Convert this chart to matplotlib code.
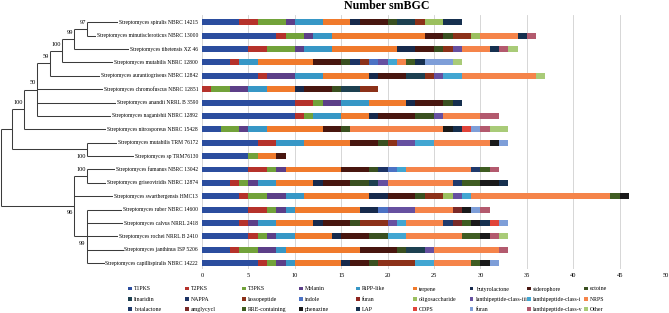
import matplotlib
matplotlib.use("Agg")
import matplotlib.pyplot as plt
from matplotlib.patches import Patch
import numpy as np

plt.rcParams['font.family'] = ['Liberation Serif', 'DejaVu Serif']

# ---------------- data ----------------
species = [
    "Streptomyces spiralis NBRC 14215",
    "Streptomyces minutiscleroticus NBRC 13000",
    "Streptomyces tibetensis XZ 46",
    "Streptomyces mutabilis NBRC 12800",
    "Streptomyces aurantiogriseus NBRC 12842",
    "Streptomyces chromofuscus NBRC 12851",
    "Streptomyces anandii NRRL B 3590",
    "Streptomyces naganishii NBRC 12892",
    "Streptomyces nitrosporeus NBRC 15428",
    "Streptomyces mutabilis TRM 76172",
    "Streptomyces sp TRM76130",
    "Streptomyces fumanus NBRC 13042",
    "Streptomyces griseoviridis NBRC 12874",
    "Streptomyces swartbergensis HMC13",
    "Streptomyces ruber NBRC 14600",
    "Streptomyces calvus NRRL 2418",
    "Streptomyces rochei NRRL B 2410",
    "Streptomyces janthinus ISP 5206",
    "Streptomyces capillispiralis NBRC 14222",
]

T1PKS         = [4, 8, 5, 3, 6, 0, 10, 10, 2, 6, 5, 5, 3, 4, 5, 4, 5, 3, 6]
T2PKS         = [2, 1, 2, 1, 1, 1, 2, 1, 0, 2, 0, 2, 1, 1, 2, 1, 1, 1, 1]
T3PKS         = [3, 2, 3, 0, 0, 2, 1, 1, 2, 0, 1, 1, 1, 2, 1, 0, 1, 2, 1]
Melanin       = [1, 1, 1, 0, 3, 2, 2, 0, 1, 0, 0, 1, 1, 2, 1, 1, 1, 2, 1]
RiPP_like     = [3, 2, 3, 2, 3, 2, 3, 3, 2, 3, 0, 0, 2, 2, 1, 2, 2, 1, 1]
terpene       = [3, 10, 7, 6, 5, 3, 4, 3, 6, 5, 2, 6, 4, 7, 7, 4, 4, 8, 5]
butyrolactone = [1, 0, 2, 0, 1, 1, 1, 1, 0, 0, 0, 0, 1, 2, 2, 1, 1, 0, 1]
siderophore   = [3, 2, 2, 3, 3, 3, 3, 4, 2, 3, 1, 3, 3, 3, 0, 3, 3, 4, 2]
ectoine       = [1, 1, 1, 1, 0, 1, 1, 2, 1, 1, 0, 1, 2, 1, 0, 1, 2, 1, 1]
linaridin     = [2, 0, 0, 0, 2, 2, 0, 0, 0, 0, 0, 0, 1, 0, 0, 0, 0, 2, 0]
NAPPA         = [0, 0, 0, 1, 0, 0, 0, 0, 0, 0, 0, 1, 0, 0, 0, 0, 0, 0, 0]
lassopeptide  = [1, 2, 1, 1, 1, 2, 0, 0, 0, 1, 0, 0, 0, 2, 0, 3, 0, 0, 4]
indole        = [0, 0, 0, 1, 0, 0, 0, 0, 0, 0, 0, 1, 0, 0, 1, 0, 0, 0, 0]
furan         = [0] * 19
oligosaccharide = [2, 1, 0, 0, 0, 0, 0, 0, 0, 0, 0, 0, 0, 1, 0, 0, 0, 0, 0]
lanthi_iii    = [0, 0, 1, 1, 1, 0, 0, 1, 0, 2, 0, 0, 1, 1, 3, 1, 0, 1, 0]
lanthi_i      = [0, 0, 0, 1, 2, 0, 0, 0, 0, 2, 0, 1, 0, 1, 0, 1, 2, 0, 2]
NRPS          = [0, 4, 3, 1, 8, 0, 0, 4, 10, 6, 0, 7, 7, 15, 4, 4, 6, 7, 4]
betalactone   = [0, 0, 0, 0, 0, 0, 0, 0, 0, 0, 0, 1, 1, 0, 0, 1, 0, 0, 0]
amglycycl     = [0, 0, 0, 0, 0, 0, 0, 0, 0, 0, 0, 0, 0, 0, 1, 1, 0, 0, 0]
RRE           = [0, 0, 0, 1, 0, 0, 0, 0, 0, 0, 0, 1, 2, 1, 0, 1, 2, 0, 1]
phenazine     = [0, 0, 0, 0, 0, 0, 0, 0, 1, 1, 0, 0, 2, 1, 1, 1, 1, 0, 1]
LAP           = [2, 1, 1, 1, 0, 0, 1, 0, 1, 0, 0, 0, 1, 0, 0, 1, 0, 0, 0]
CDPS          = [0, 0, 0, 0, 0, 0, 0, 0, 1, 0, 0, 0, 0, 0, 0, 1, 0, 0, 0]
furan2        = [0, 0, 0, 3, 0, 0, 0, 0, 1, 1, 0, 0, 0, 0, 1, 1, 0, 0, 1]
lanthi_v      = [0, 1, 1, 0, 0, 0, 0, 2, 1, 0, 0, 1, 0, 0, 1, 0, 1, 1, 0]
Other         = [0, 0, 1, 1, 1, 0, 0, 0, 2, 0, 0, 0, 0, 0, 0, 0, 1, 0, 0]

series_labels = ["T1PKS", "T2PKS", "T3PKS", "Melanin", "RiPP-like", "terpene",
                 "butyrolactone", "siderophore", "ectoine",
                 "linaridin", "NAPPA", "lassopeptide", "indole", "furan",
                 "oligosaccharide", "lanthipeptide-class-iii",
                 "lanthipeptide-class-i", "NRPS",
                 "betalactone", "amglycycl", "RRE-containing", "phenazine",
                 "LAP", "CDPS", "furan", "lanthipeptide-class-v", "Other"]
series_values = [T1PKS, T2PKS, T3PKS, Melanin, RiPP_like, terpene,
                 butyrolactone, siderophore, ectoine,
                 linaridin, NAPPA, lassopeptide, indole, furan,
                 oligosaccharide, lanthi_iii, lanthi_i, NRPS,
                 betalactone, amglycycl, RRE, phenazine,
                 LAP, CDPS, furan2, lanthi_v, Other]
series_colors = ["#2B4D9E", "#B5322B", "#72A23A", "#5C3F88", "#3797C6", "#F07A2C",
                 "#172A4C", "#48160F", "#3A5020",
                 "#1D4050", "#1C3364", "#8C3119", "#4C72C4", "#8E2620",
                 "#9BBF5E", "#6650A0", "#42A6D2", "#F5844A",
                 "#203A6B", "#7A2A28", "#3F5C22", "#1A1A1A",
                 "#16304F", "#E0443A", "#7E9ED8", "#B35A6E", "#A9CB78"]

xticks = list(range(0, 51, 5))

# tree: (node depth in px, bootstrap, label side, children); ints are leaf rows
tree = (1.0, None, 0, [
    (12.3, None, 0, [
        (24.0, "100", 1, [
            (37.3, "50", 1, [
                (50.0, "59", 1, [
                    (62.3, "100", 1, [
                        (74.0, "99", 1, [
                            (87.3, "97", 1, [0, 1]),
                            2]),
                        3]),
                    4]),
                5, 6, 7]),
            8]),
        (86.7, "100", -1, [9, 10])]),
    (74.0, "96", -1, [
        (86.7, "100", 1, [11, 12]),
        13,
        (86.7, "99", -1, [14, 15, 16, 17, 18])])])

# ---------------- figure ----------------
W, H = 669, 313
fig = plt.figure(figsize=(W / 100, H / 100), dpi=100)

def fx(px):
    return px / W

def fy(py):
    return 1 - py / H

top_px, bot_px = 15, 269
row0, step = 22.3, 13.38
ylim = ((bot_px - row0) / step, (top_px - row0) / step)

ax = fig.add_axes([fx(202), fy(bot_px), (666 - 202) / W, (bot_px - top_px) / H])
ax.set_xlim(0, 50)
ax.set_ylim(*ylim)
y = np.arange(len(species))
left = np.zeros(len(species))
for vals, col in zip(series_values, series_colors):
    v = np.array(vals, dtype=float)
    ax.barh(y, v, left=left, height=0.44, color=col, linewidth=0, zorder=3)
    left += v
ax.set_xticks(xticks)
ax.set_xticklabels([str(t) for t in xticks])
ax.grid(axis='x', color='#d0d0d0', lw=0.6, zorder=0)
ax.set_yticks([])
for s in ax.spines.values():
    s.set_visible(False)
ax.tick_params(axis='x', length=0, labelsize=4.6, pad=3)

# tree axes
tax = fig.add_axes([0, fy(bot_px), 202 / W, (bot_px - top_px) / H])
tax.set_xlim(0, 202)
tax.set_ylim(*ylim)
tax.axis('off')
lc, lw = '#3c3c3c', 0.75
leaf_end = 196

def draw(node):
    if isinstance(node, int):
        return node
    x, sup, side, children = node
    ys = []
    for ch in children:
        cy = draw(ch)
        ys.append(cy)
        x_end = leaf_end if isinstance(ch, int) else ch[0]
        tax.plot([x, x_end], [cy, cy], color=lc, lw=lw, solid_capstyle='butt')
    tax.plot([x, x], [min(ys), max(ys)], color=lc, lw=lw, solid_capstyle='butt')
    ny = (min(ys) + max(ys)) / 2
    if sup:
        tax.text(x - 1, ny - 0.5 * side, sup, ha='right', va='center', fontsize=4.6)
    return ny

draw(tree)
for i, name in enumerate(species):
    tax.text(198, i, name, ha='right', va='center', fontsize=4.0,
             bbox=dict(facecolor='white', edgecolor='none', pad=0.6), zorder=5)

fig.text(fx(387), fy(8.7), "Number smBGC", ha='center', va='baseline',
         fontsize=8.6, fontweight='bold')

# legend: 3 rows x 9 columns, row-major
for c in range(9):
    idx = [r * 9 + c for r in range(3)]
    handles = [Patch(facecolor=series_colors[i], edgecolor='none') for i in idx]
    labels = [series_labels[i] for i in idx]
    fig.legend(handles, labels, loc='upper left',
               bbox_to_anchor=(fx(128 + 57 * c), fy(286.5)), frameon=False,
               fontsize=4.2, handlelength=0.6, handleheight=0.6,
               handletextpad=0.35, labelspacing=0.92, borderpad=0,
               borderaxespad=0)

fig.savefig("out.png", dpi=100)
